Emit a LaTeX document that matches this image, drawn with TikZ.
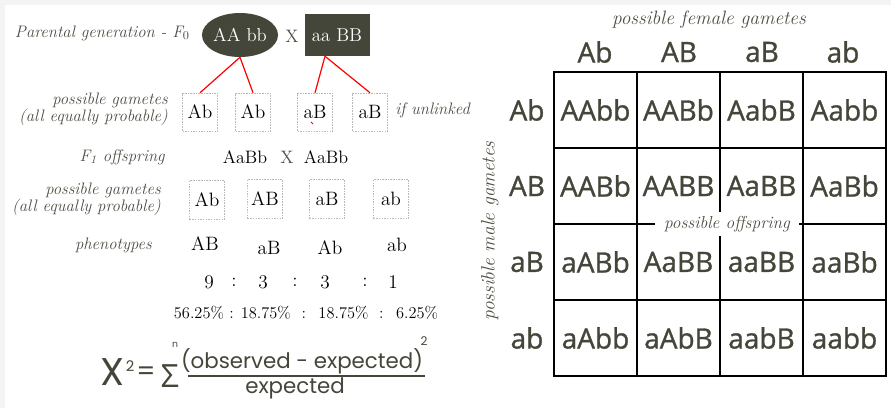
\documentclass[tikz,border=0pt]{standalone}
\usepackage{fontspec}
\setsansfont{Poppins}
\newfontfamily\punn{Open Sans}[FakeBold=1.1]
\newfontfamily\sigf{Open Sans}
\usetikzlibrary{shapes.geometric,calc}
\definecolor{dk}{HTML}{45463A}
\definecolor{lab}{HTML}{4E4E44}
\begin{document}
\begin{tikzpicture}[x=0.75pt,y=-0.75pt,
  lbl/.style={font=\fontsize{12.5}{12.75}\selectfont\itshape, text=lab, align=right, inner sep=0},
  gam/.style={draw=gray!55, line width=0.4pt, dash pattern=on 1.2pt off 0.8pt, minimum width=26.25pt, minimum height=28.5pt, inner sep=0, font=\fontsize{14.5}{15}\selectfont},
  ser/.style={font=\fontsize{13.5}{14}\selectfont, inner sep=0},
  num/.style={font=\fontsize{14.5}{15}\selectfont, inner sep=0},
  cell/.style={draw=black, line width=1.6pt, minimum width=62.25pt, minimum height=57pt, inner sep=0, font=\punn\fontsize{21}{22}\selectfont, text=dk},
  hdr/.style={font=\punn\fontsize{21}{22}\selectfont, text=dk, inner sep=0},
  par/.style={fill=dk, text=white, font=\fontsize{14}{15}\selectfont, inner sep=0},
  redl/.style={draw=red, line width=0.9pt},
  frm/.style={font=\sffamily, text=dk, inner sep=0}
]
\useasboundingbox (0,0) rectangle (891,408);
\fill[white] (0,0) rectangle (891,408);
\fill[gray!9] (0,0) rectangle (891,5);
\fill[gray!9] (0,0) rectangle (5,408);

% ---- parental generation
\node[lbl, anchor=east] (t1) at (190,33) {Parental generation - F$_0$};
\node[par, ellipse, minimum width=55.5pt, minimum height=33pt] (p1) at (240,35) {AA bb};
\node[ser, text=lab] (x1) at (292,36) {X};
\node[par, minimum width=48.75pt, minimum height=31.5pt] (p2) at (337,35) {aa BB};

% ---- gametes row 1
\node[lbl, anchor=east] (t2) at (168,109) {possible gametes\\(all equally probable)};
\node[gam] (g1) at (200,112) {Ab};
\node[gam] (g2) at (253,112) {Ab};
\node[gam] (g3) at (315,112) {aB};
\node[gam] (g4) at (370,112) {aB};
\node[lbl, anchor=west] (t3) at (395,110) {if unlinked};
\coordinate (p2b) at ($(p2.south)+(-12,0)$);
\draw[redl] (p1.south) -- (g1.north);
\draw[redl] (p1.south) -- (g2.north);
\draw[redl] (p2b) -- (g3.north);
\draw[redl] (p2b) -- (g4.north);
\draw[red, line width=0.6pt] ($(g3.center)+(-4,10)$) -- ($(g3.center)+(-2,12)$);

% ---- F1
\node[lbl, anchor=east] (t4) at (165,157) {F\textsubscript{1} offspring};
\node[ser] (f1a) at (245,157) {AaBb};
\node[ser, text=lab] (fx) at (287,157) {X};
\node[ser] (f1b) at (326,157) {AaBb};

% ---- gametes row 2
\node[lbl, anchor=east] (t5) at (161,199) {possible gametes\\(all equally probable)};
\node[gam, minimum height=29.25pt] (h1) at (207,200) {Ab};
\node[gam, minimum height=29.25pt] (h2) at (265,199) {AB};
\node[gam, minimum height=29.25pt] (h3) at (327,199) {aB};
\node[gam, minimum height=29.25pt] (h4) at (391,199) {ab};

% ---- phenotypes
\node[lbl, anchor=east] (t6) at (152,245) {phenotypes};
\node[num] (ph1) at (205,244) {AB};
\node[num] (ph2) at (269,248) {aB};
\node[num] (ph3) at (330,248) {Ab};
\node[num] (ph4) at (397,245) {ab};

% ---- ratios
\node[num] (r1) at (209,282) {9};
\node[num] (r2) at (234,282) {:};
\node[num] (r3) at (263,282) {3};
\node[num] (r4) at (295,282) {:};
\node[num] (r5) at (325,282) {3};
\node[num] (r6) at (365,282) {:};
\node[num] (r7) at (393,282) {1};
\node[ser, font=\fontsize{12.3}{13}\selectfont] (pc) at (306,313) {56.25\% : 18.75\% \ : \ 18.75\% \ : \ 6.25\%};

% ---- chi square formula
\node[frm, font=\sffamily\fontsize{29}{30}\selectfont] (chi) at (113,372) {X};
\node[frm, font=\sffamily\fontsize{11}{12}\selectfont] (chi2) at (130,366) {2};
\node[frm, font=\sffamily\fontsize{20}{21}\selectfont] (eq) at (146,374) {=};
\node[frm, font=\sigf\fontsize{24}{25}\selectfont] (sig) at (170,376) {Σ};
\node[frm, font=\sffamily\fontsize{7}{8}\selectfont] (nn) at (175,345) {n};
\node[frm, font=\sffamily\fontsize{16}{17}\selectfont] (num) at (302,361) {(observed - expected)};
\node[frm, font=\sffamily\fontsize{9}{10}\selectfont] (num2) at (424,341) {2};
\node[frm, font=\sffamily\fontsize{16}{17}\selectfont] (den) at (295,388) {expected};
\coordinate (bl) at (188,376);
\coordinate (br) at (425,376);
\draw[dk, line width=0.8pt] (bl) -- (br);

% ---- Punnett square
\node[lbl, font=\fontsize{14.5}{15}\selectfont\itshape] (fem) at (709,20) {possible female gametes};
\node[hdr] (ca) at (595,52) {Ab};
\node[hdr] (cb) at (679,52) {AB};
\node[hdr] (cc) at (762,52) {aB};
\node[hdr] (cd) at (843,52) {ab};
\node[lbl, font=\fontsize{14.5}{15}\selectfont\itshape, rotate=90] (male) at (490,231) {possible male gametes};
\node[hdr] (ra) at (527,110) {Ab};
\node[hdr] (rb) at (527,186) {AB};
\node[hdr] (rc) at (527,262) {aB};
\node[hdr] (rd) at (527,338) {ab};

\node[cell] (c11) at (595.5,110) {AAbb};
\node[cell] (c12) at (678.5,110) {AABb};
\node[cell] (c13) at (761.5,110) {AabB};
\node[cell] (c14) at (844.5,110) {Aabb};
\node[cell] (c21) at (595.5,186) {AABb};
\node[cell] (c22) at (678.5,186) {AABB};
\node[cell] (c23) at (761.5,186) {AaBB};
\node[cell] (c24) at (844.5,186) {AaBb};
\node[cell] (c31) at (595.5,262) {aABb};
\node[cell] (c32) at (678.5,262) {AaBB};
\node[cell] (c33) at (761.5,262) {aaBB};
\node[cell] (c34) at (844.5,262) {aaBb};
\node[cell] (c41) at (595.5,338) {aAbb};
\node[cell] (c42) at (678.5,338) {aAbB};
\node[cell] (c43) at (761.5,338) {aabB};
\node[cell] (c44) at (844.5,338) {aabb};

\node[lbl, font=\fontsize{13}{14}\selectfont\itshape, fill=white, inner xsep=7pt, inner ysep=3pt] (off) at (727,224) {possible offspring};
\end{tikzpicture}
\end{document}
